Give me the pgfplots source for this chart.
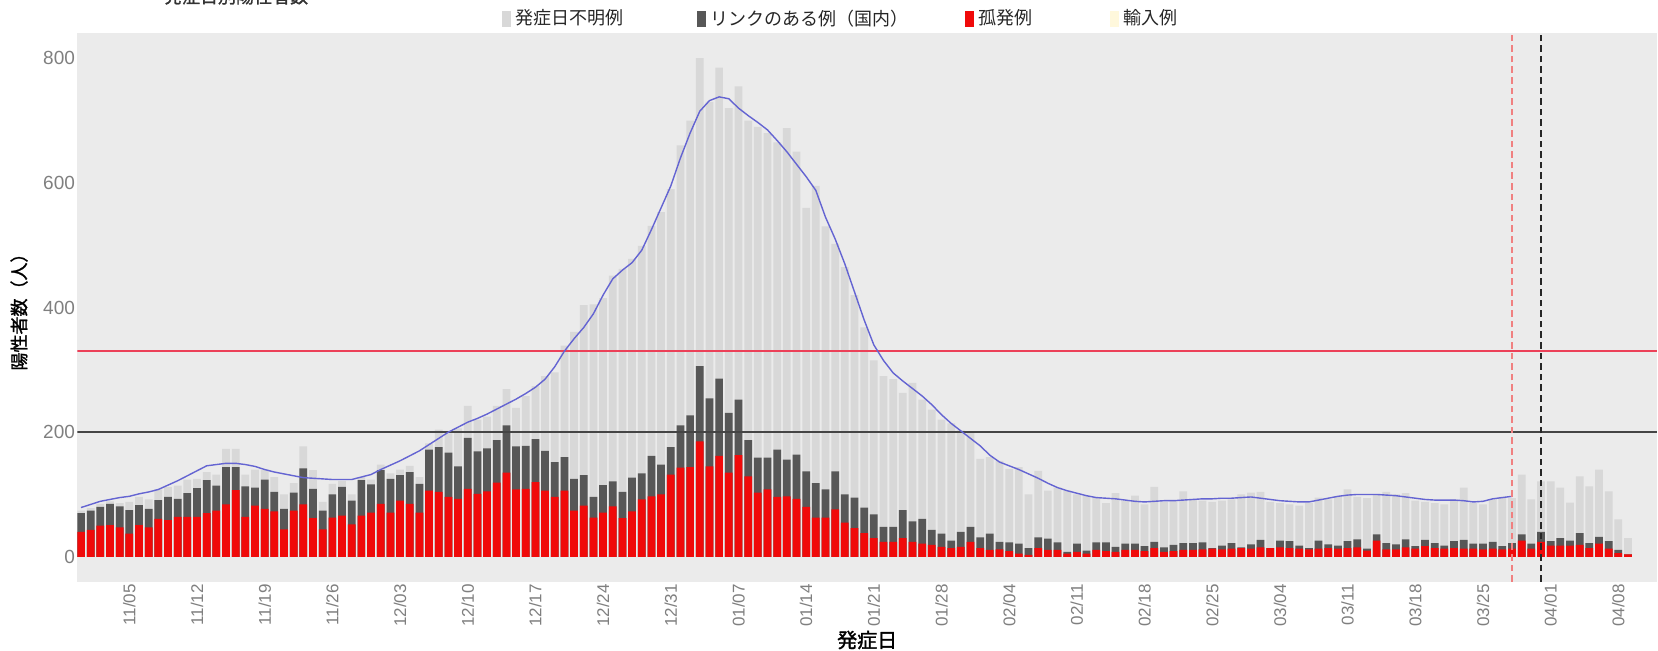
\documentclass[border=0pt]{standalone}
\usepackage{fontspec}
\setmainfont{Liberation Sans}
\newfontfamily\jp{Noto Sans CJK JP}
\newfontfamily\jpb[FakeBold=1.5]{Noto Sans CJK JP}
\usepackage{pgfplots}
\usepackage{pgfplotstable}
\pgfplotsset{compat=1.18}
\definecolor{bgc}{HTML}{EBEBEB}
\definecolor{lgc}{HTML}{D8D8D8}
\definecolor{dgc}{HTML}{575757}
\definecolor{redc}{HTML}{F00A0A}
\definecolor{creamc}{HTML}{FFF8DC}
\definecolor{bluec}{HTML}{6464D2}
\definecolor{hred}{HTML}{EC4058}
\definecolor{hblk}{HTML}{454545}
\definecolor{vred}{HTML}{F08080}
\definecolor{tickc}{HTML}{7F7F7F}

\pgfplotstableread{
i red dtop tot
0 40 70 74
1 43 74 78
2 50 80 85
3 51 85 89
4 47 81 86
5 37 75 88
6 51 83 96
7 47 77 92
8 61 91 108
9 59 96 112
10 64 93 114
11 64 102 124
12 64 110 125
13 70 123 136
14 74 114 132
15 84 144 173
16 107 144 173
17 64 113 132
18 82 111 140
19 77 124 140
20 73 104 128
21 44 77 100
22 74 103 118
23 84 142 177
24 62 109 139
25 44 74 88
26 63 100 117
27 66 112 122
28 52 90 100
29 66 123 128
30 71 116 124
31 85 139 148
32 71 125 134
33 90 131 140
34 85 136 146
35 71 117 128
36 106 172 182
37 104 176 204
38 96 167 198
39 93 145 206
40 109 191 242
41 101 169 220
42 105 174 225
43 119 187 242
44 135 211 269
45 108 177 239
46 109 178 258
47 120 189 274
48 106 170 290
49 96 152 296
50 106 160 339
51 74 125 361
52 82 131 404
53 63 96 405
54 71 115 415
55 81 121 451
56 62 104 462
57 73 127 478
58 92 134 499
59 97 162 531
60 100 148 553
61 132 176 590
62 143 211 660
63 144 227 700
64 185 306 800
65 145 254 730
66 162 286 785
67 135 231 720
68 163 252 755
69 129 187 700
70 103 159 690
71 108 159 680
72 96 172 665
73 97 156 688
74 93 164 650
75 80 137 560
76 63 118 595
77 63 108 530
78 76 137 502
79 55 100 465
80 46 95 420
81 38 79 368
82 30 68 315
83 24 48 290
84 24 48 285
85 30 75 263
86 24 57 279
87 21 61 252
88 19 43 236
89 16 37 220
90 14 26 214
91 16 40 203
92 24 48 201
93 14 31 157
94 11 37 160
95 12 24 154
96 9 23 141
97 5 21 144
98 3 14 100
99 14 31 138
100 11 29 106
101 11 23 111
102 5 8 106
103 8 21 100
104 5 10 98
105 11 23 95
106 9 23 86
107 8 16 102
108 11 21 90
109 11 21 98
110 9 17 84
111 14 24 112
112 8 15 88
113 9 19 90
114 11 22 105
115 11 22 92
116 12 23 90
117 13 14 88
118 12 18 90
119 13 22 92
120 14 15 100
121 13 20 103
122 15 27 104
123 14 14 88
124 15 26 86
125 14 25 84
126 13 18 82
127 12 14 86
128 13 26 95
129 14 20 92
130 13 18 97
131 14 25 108
132 15 28 96
133 10 13 94
134 26 36 100
135 12 22 104
136 12 20 100
137 15 28 102
138 13 17 90
139 17 27 88
140 14 22 86
141 13 18 84
142 14 25 92
143 13 27 111
144 13 21 86
145 12 21 84
146 13 24 92
147 12 17 96
148 13 22 94
149 26 36 132
150 13 21 92
151 24 40 121
152 18 25 121
153 18 30 111
154 18 26 87
155 19 38 129
156 14 22 113
157 21 32 140
158 13 25 105
159 6 11 60
160 4 4 30
}\bars

\pgfplotstableread{
i avg
0 79
1 84
2 89
3 92
4 95
5 97
6 101
7 104
8 108
9 115
10 122
11 130
12 138
13 146
14 148
15 150
16 150
17 148
18 145
19 140
20 136
21 133
22 130
23 127
24 126
25 125
26 124
27 124
28 124
29 128
30 132
31 140
32 147
33 154
34 162
35 170
36 180
37 190
38 200
39 208
40 216
41 222
42 229
43 237
44 245
45 253
46 262
47 272
48 285
49 305
50 330
51 350
52 368
53 390
54 420
55 446
56 460
57 472
58 492
59 525
60 560
61 595
62 640
63 680
64 715
65 732
66 738
67 735
68 720
69 708
70 697
71 685
72 668
73 650
74 630
75 610
76 588
77 545
78 510
79 470
80 425
81 380
82 340
83 315
84 295
85 282
86 270
87 258
88 244
89 228
90 214
91 202
92 190
93 178
94 163
95 152
96 146
97 140
98 133
99 126
100 118
101 111
102 106
103 102
104 98
105 95
106 94
107 93
108 91
109 89
110 88
111 89
112 90
113 90
114 91
115 92
116 93
117 93
118 94
119 94
120 95
121 96
122 94
123 92
124 90
125 89
126 88
127 88
128 91
129 94
130 97
131 99
132 100
133 100
134 100
135 99
136 98
137 96
138 94
139 92
140 91
141 91
142 91
143 90
144 88
145 89
146 93
147 95
148 97
}\avg

\begin{document}
\begin{tikzpicture}
\begin{axis}[
  at={(38.65pt,34.15pt)}, anchor=south west,
  scale only axis, width=789.85pt, height=274.2pt,
  xmin=-0.38, xmax=163.0, ymin=-40, ymax=840,
  axis background/.style={fill=bgc},
  axis line style={draw=none},
  major tick length=0pt, minor tick num=0,
  ytick={0,200,400,600,800},
  xtick={5,12,...,159},
  xticklabels={11/05,11/12,11/19,11/26,12/03,12/10,12/17,12/24,12/31,01/07,01/14,01/21,01/28,02/04,02/11,02/18,02/25,03/04,03/11,03/18,03/25,04/01,04/08},
  xticklabel style={rotate=90, anchor=east, font=\fontsize{8.5}{9}\selectfont, text=tickc, inner sep=1pt},
  yticklabel style={font=\fontsize{9.5}{10}\selectfont, text=tickc, inner sep=1pt},
  /pgf/number format/assume math mode=true,
  xlabel={\jpb 発症日},
  xlabel style={at={(rel axis cs:0.5,0)}, anchor=center, yshift=-29.15pt, font=\fontsize{10}{11}\selectfont},
  ylabel={\jpb 陽性者数（人）},
  ylabel style={at={(rel axis cs:-0.0369,0.5)}, anchor=center, font=\fontsize{9}{10}\selectfont},
  legend image code/.code={\fill[#1] (0pt,-4pt) rectangle (4.5pt,4pt);},
  legend style={at={(rel axis cs:0.2689,1)}, anchor=west, yshift=7.2pt, draw=none, fill=none, inner sep=0pt,
    font=\jp\fontsize{9}{10}\selectfont, text=black!85,
    /tikz/column 2/.style={column sep=35pt},
    /tikz/column 4/.style={column sep=26.5pt},
    /tikz/column 6/.style={column sep=37pt}},
  legend columns=4,
]
\addlegendimage{fill=lgc, draw=none}
\addlegendentry{発症日不明例}
\addlegendimage{fill=dgc, draw=none}
\addlegendentry{リンクのある例（国内）}
\addlegendimage{fill=redc, draw=none}
\addlegendentry{孤発例}
\addlegendimage{fill=creamc, draw=none}
\addlegendentry{輸入例}

\addplot[ybar, bar width=0.8, bar shift=0pt, fill=lgc, draw=none, forget plot] table[x=i, y=tot]{\bars};
\addplot[ybar, bar width=0.8, bar shift=0pt, fill=dgc, draw=none, forget plot] table[x=i, y=dtop]{\bars};
\addplot[ybar, bar width=0.8, bar shift=0pt, fill=redc, draw=none, forget plot] table[x=i, y=red]{\bars};

\addplot[color=hred, line width=1pt, forget plot] coordinates {(-0.38,330) (163,330)};
\addplot[color=hblk, line width=1.2pt, forget plot] coordinates {(-0.38,200) (163,200)};
\addplot[color=bluec, line width=0.7pt, forget plot] table[x=i, y=avg]{\avg};
\addplot[color=vred, line width=1pt, dash pattern=on 3.3pt off 2pt, forget plot] coordinates {(148,-40) (148,840)};
\addplot[color=black!85, line width=1pt, dash pattern=on 3.3pt off 2pt, forget plot] coordinates {(151,-40) (151,840)};
\end{axis}
\node[anchor=base west, font=\jpb\fontsize{9}{10}\selectfont, text=black!80] at (78.5pt,323.5pt) {発症日別陽性者数};
\pgfresetboundingbox
\useasboundingbox (0,0) rectangle (829pt,325pt);
\end{tikzpicture}
\end{document}
